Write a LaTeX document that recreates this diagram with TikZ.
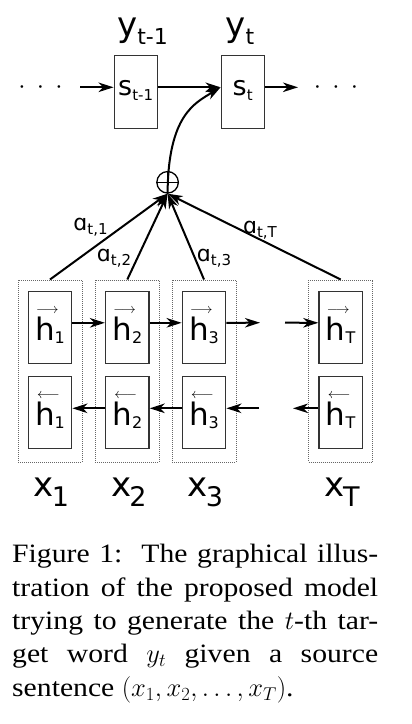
\RequirePackage{fix-cm}
\documentclass[tikz,border=0pt]{standalone}
\usepackage{amsmath}
\usepackage{fontspec}
\setmainfont{DejaVu Sans}
\newfontfamily\capfont[FakeStretch=1.12]{Liberation Serif}
\usepackage{tikz}
\usetikzlibrary{arrows.meta,calc}
\tikzset{>={Stealth[length=15pt,width=9.5pt,inset=4.5pt]}}
\newcommand{\fs}[1]{\fontsize{#1}{#1}\selectfont}
\newcommand{\lo}[3]{\raisebox{-#1pt}{\fs{#2}#3}}
\newcommand{\hf}[1]{\fs{31}\rlap{\hspace{1pt}\raisebox{27pt}{\fs{14}$\longrightarrow$}}h\lo{3}{16}{#1}}
\newcommand{\hb}[1]{\fs{31}\rlap{\hspace{2pt}\raisebox{27pt}{\fs{14}$\longleftarrow$}}h\lo{3}{16}{#1}}

\begin{document}
\begin{tikzpicture}[x=1pt,y=-1pt,
  box/.style={draw=black!80,line width=1.3pt,inner sep=0pt},
  sbox/.style={box,minimum width=43pt,minimum height=73pt,text height=7pt,text depth=0pt},
  hbox/.style={box,minimum width=43.5pt,minimum height=72pt,text height=26pt,text depth=0pt},
  col/.style={draw=black!60,densely dotted,line width=1pt,minimum width=64pt,minimum height=182pt,inner sep=0pt},
  conn/.style={->,line width=2pt},
  lbl/.style={anchor=base,inner sep=0pt}]

\useasboundingbox (0,0) rectangle (412,724);

% decoder
\node[sbox] (s1) at (135.7,91.7) {\fs{27}s\lo{5}{15}{t-1}};
\node[sbox] (s2) at (242.7,91.7) {\fs{27}s\lo{5}{15}{t}};
\node[lbl] (y1) at (142.5,36.3) {\fs{34}y\lo{8}{22}{t-1}};
\node[lbl] (y2) at (240,36.3) {\fs{34}y\lo{8}{22}{t}};

\node (ld) at (40.5,87.3) {\fs{26}${\cdot}\hspace{11.3pt}{\cdot}\hspace{11.3pt}{\cdot}$};
\node (rd) at (336,87.3) {\fs{26}${\cdot}\hspace{11.3pt}{\cdot}\hspace{11.3pt}{\cdot}$};
\coordinate (l) at (80,87.3);
\coordinate (r) at (298,87.3);

\draw[conn] (l) -- ([yshift=4.4pt]s1.west);
\draw[conn] ([yshift=4.4pt]s1.east) -- ([yshift=4.4pt]s2.west);
\draw[conn] ([yshift=4.4pt]s2.east) -- (r);

% weighted sum
\node[circle,draw,line width=1.3pt,minimum size=21.5pt,inner sep=0pt] (sum) at (167.6,182.3) {};
\draw[line width=1.3pt] (sum.north) -- (sum.south) (sum.west) -- (sum.east);
\draw[conn] (sum.south) .. controls (168,115) and (195,103) .. ([yshift=4.4pt]s2.west);

% encoder
\foreach \i/\x/\s in {1/50/1,2/127.3/2,3/204/3,4/340.7/T} {
  \node[col] (c\i) at (\x,371) {};
  \node[hbox] (f\i) at (\x,327.2) {\hf{\s}};
  \node[hbox] (b\i) at (\x,412.3) {\hb{\s}};
  \node[lbl] (x\i) at (\x+1.5,496.7) {\fs{34}x\kern-2pt\lo{10}{27}{\s}};
}

\coordinate (fa) at (260,322.7);
\coordinate (fb) at (285,322.7);
\coordinate (ba) at (259,408.3);
\coordinate (bb) at (293,408.3);

\draw[conn] ([yshift=4.4pt]f1.east) -- ([yshift=4.4pt]f2.west);
\draw[conn] ([yshift=4.4pt]f2.east) -- ([yshift=4.4pt]f3.west);
\draw[conn] ([yshift=4.4pt]f3.east) -- (fa);
\draw[conn] (fb) -- ([yshift=4.4pt]f4.west);
\draw[conn] ([yshift=4pt]b4.west) -- (bb);
\draw[conn] (ba) -- ([yshift=4pt]b3.east);
\draw[conn] ([yshift=4pt]b3.west) -- ([yshift=4pt]b2.east);
\draw[conn] ([yshift=4pt]b2.west) -- ([yshift=4pt]b1.east);

% attention weights
\foreach \i in {1,...,4}
  \draw[conn] (c\i.north) -- (sum.south);
\node[lbl] (a1) at (90.5,230) {\fs{22}ɑ\lo{4}{15}{t,1}};
\node[lbl] (a2) at (114,261.7) {\fs{22}ɑ\lo{4}{15}{t,2}};
\node[lbl] (a3) at (214,261.7) {\fs{22}ɑ\lo{4}{15}{t,3}};
\node[lbl] (a4) at (260,233.3) {\fs{22}ɑ\lo{4}{15}{t,T}};

% caption
\node[anchor=north west,inner sep=0pt,text width=366pt,align=justify,
  font=\capfont\fontsize{26.5}{33.3}\selectfont] (cap) at (12,544.3)
  {Figure 1:\ \ The graphical illus-\linebreak tration of the proposed model\linebreak
   trying to generate the $t$-th tar-\linebreak get word $y_t$ given a source\linebreak
   sentence $(x_1, x_2, \ldots, x_T)$.};

\end{tikzpicture}
\end{document}
